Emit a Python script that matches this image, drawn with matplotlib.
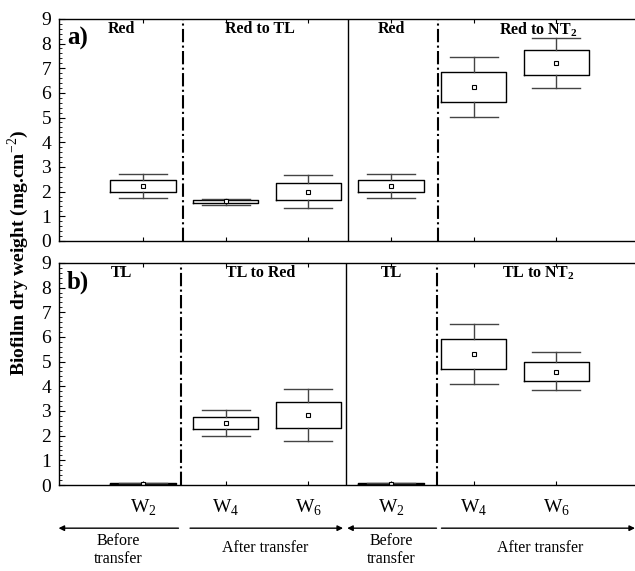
import matplotlib
matplotlib.use('Agg')
import matplotlib.pyplot as plt
from matplotlib.ticker import MultipleLocator
import matplotlib.transforms as mtransforms

plt.rcParams['font.family'] = ['Liberation Serif', 'DejaVu Serif']
plt.rcParams['mathtext.fontset'] = 'custom'
plt.rcParams['mathtext.rm'] = 'Liberation Serif'
plt.rcParams['mathtext.bf'] = 'Liberation Serif:bold'

# box positions and labels
positions = [1, 2, 3, 4, 5, 6]
week_labels = ['W$_2$', 'W$_4$', 'W$_6$', 'W$_2$', 'W$_4$', 'W$_6$']

# panel a) : whislo, q1, mean, q3, whishi
a_whislo = [1.76, 1.46, 1.33, 1.76, 5.01, 6.21]
a_q1 = [1.99, 1.53, 1.67, 1.99, 5.64, 6.71]
a_mean = [2.21, 1.60, 2.00, 2.22, 6.22, 7.21]
a_q3 = [2.47, 1.65, 2.35, 2.47, 6.86, 7.74]
a_whishi = [2.71, 1.72, 2.68, 2.71, 7.45, 8.24]

# panel b)
b_whislo = [0.00, 2.00, 1.78, 0.00, 4.09, 3.85]
b_q1 = [0.03, 2.27, 2.30, 0.03, 4.71, 4.22]
b_mean = [0.05, 2.50, 2.83, 0.05, 5.30, 4.59]
b_q3 = [0.08, 2.77, 3.36, 0.08, 5.90, 4.99]
b_whishi = [0.10, 3.04, 3.89, 0.10, 6.52, 5.37]

a_groups = ['Red', 'Red to TL', 'Red', 'Red to NT$_\\mathbf{2}$']
b_groups = ['TL', 'TL to Red', 'TL', 'TL to NT$_\\mathbf{2}$']
group_x = [0.74, 2.42, 4.0, 5.78]

periods = ['Before\ntransfer', 'After transfer', 'Before\ntransfer', 'After transfer']
period_x = [0.70, 2.48, 4.0, 5.8]
period_y = [0.037, 0.041, 0.037, 0.041]
arrows = [(1.43, -0.02), (1.57, 3.42), (4.55, 3.47), (4.61, 6.95)]


def make_stats(lo, q1, mean, q3, hi):
    stats = []
    for i in range(len(lo)):
        stats.append({'whislo': lo[i], 'q1': q1[i], 'med': mean[i], 'mean': mean[i],
                      'q3': q3[i], 'whishi': hi[i], 'fliers': []})
    return stats


def draw_panel(ax, stats, groups, tag, dividers):
    ax.bxp(stats, positions=positions, widths=0.79, showmeans=True, showfliers=False,
           boxprops=dict(color='black', linewidth=1.0),
           whiskerprops=dict(color='#444444', linewidth=1.0),
           capprops=dict(color='#444444', linewidth=1.0),
           capwidths=0.58,
           medianprops=dict(linewidth=0),
           meanprops=dict(marker='s', markersize=3.5, markerfacecolor='white',
                          markeredgecolor='black', markeredgewidth=0.8))
    ax.set_xlim(-0.01, 6.95)
    ax.set_ylim(0, 9)
    ax.yaxis.set_major_locator(MultipleLocator(1))
    ax.yaxis.set_minor_locator(MultipleLocator(0.2))
    ax.set_xticks(positions)
    ax.tick_params(axis='y', which='major', direction='in', length=4, labelsize=14, pad=6)
    ax.tick_params(axis='y', which='minor', direction='in', length=2)
    ax.tick_params(axis='x', which='major', direction='in', length=3, top=True, labelsize=14, pad=9)
    ax.spines['right'].set_visible(False)
    for s in ['top', 'left', 'bottom']:
        ax.spines[s].set_linewidth(1.0)
    ax.axvline(dividers[0], color='black', linestyle='-.', linewidth=1.5)
    ax.axvline(dividers[1], color='black', linestyle='-', linewidth=1.0)
    ax.axvline(dividers[2], color='black', linestyle='-.', linewidth=1.5)
    for gx, g in zip(group_x, groups):
        ax.text(gx, 8.58, g, ha='center', va='center', fontsize=11.5, fontweight='bold')
    ax.text(0.08, 8.2, tag, ha='left', va='center', fontsize=18, fontweight='bold')


fig = plt.figure(figsize=(6.35, 5.71), dpi=100)
ax_a = fig.add_axes([0.0935, 0.578, 0.9065, 0.389])
ax_b = fig.add_axes([0.0935, 0.1506, 0.9065, 0.389])

draw_panel(ax_a, make_stats(a_whislo, a_q1, a_mean, a_q3, a_whishi), a_groups, 'a)', [1.48, 3.48, 4.57])
draw_panel(ax_b, make_stats(b_whislo, b_q1, b_mean, b_q3, b_whishi), b_groups, 'b)', [1.46, 3.46, 4.55])

ax_a.set_xticklabels([])
ax_b.set_xticklabels(week_labels)

fig.text(0.028, 0.557, 'Biofilm dry weight (mg.cm$^{-2}$)', rotation=90,
         ha='center', va='center', fontsize=14, fontweight='bold')

# period arrows and captions below the lower panel
trans = mtransforms.blended_transform_factory(ax_b.transData, fig.transFigure)
for (x0, x1) in arrows:
    ax_b.annotate('', xy=(x1, 0.075), xytext=(x0, 0.075), xycoords=trans, textcoords=trans,
                  arrowprops=dict(arrowstyle='-|>', color='black', linewidth=1.0,
                                  mutation_scale=8, shrinkA=0, shrinkB=0),
                  annotation_clip=False)
for px, py, p in zip(period_x, period_y, periods):
    ax_b.text(px, py, p, transform=trans, ha='center', va='center', fontsize=11.5,
              linespacing=1.15)

plt.savefig('out.png', dpi=100)
